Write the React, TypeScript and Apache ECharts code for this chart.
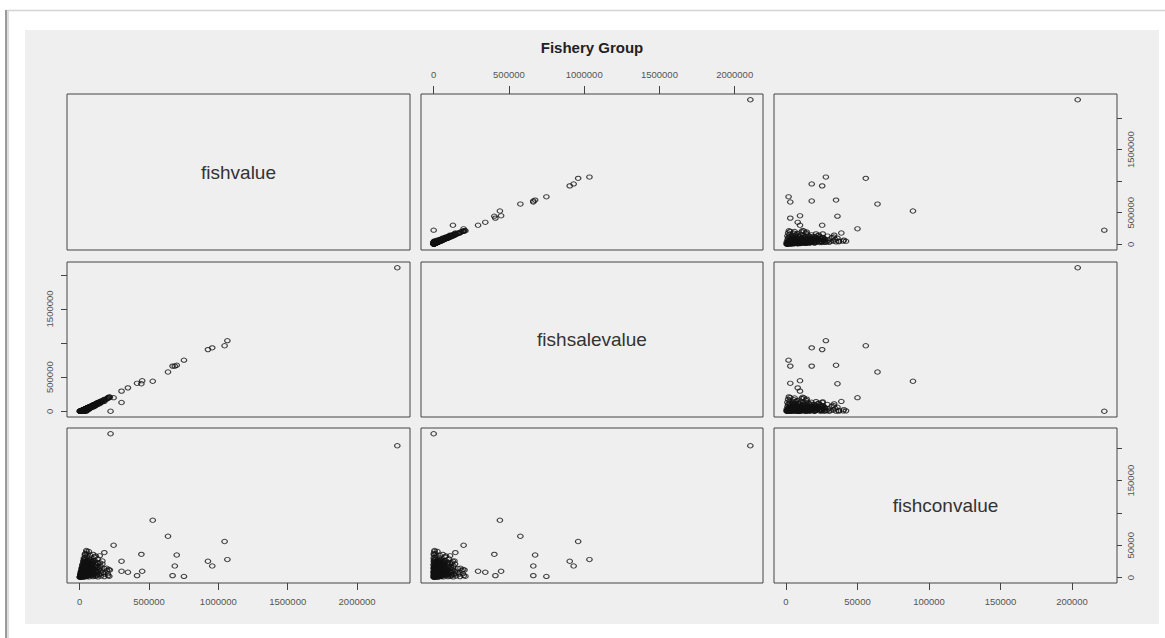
import React, { useEffect, useRef } from 'react';
import * as echarts from 'echarts';

const chartTitle = 'Fishery Group';
const variableNames = ['fishvalue', 'fishsalevalue', 'fishconvalue'];

const fishvalue = [
  223000, 2290000, 527000, 637000, 1045000, 245000, 178000, 50000, 445000, 700000, 1065000, 302000, 925000, 686000, 956000, 302000, 348000, 451000, 414000, 670000, 752000, 39000, 145000,
  500, 3000, 8000, 9000, 14000, 19000, 21000, 28000, 31000, 42000, 47000, 58000, 67000, 84000, 97000, 113000, 132000, 154000, 178000, 205000, 214000,
  6000, 11000, 11500, 17000, 20000, 23000, 29000, 36000, 40000, 48000, 58000, 66000, 80000, 91000, 107000, 126000, 153000, 177000, 203000,
  9500, 14500, 15000, 22000, 24000, 26000, 33000, 36000, 45000, 50000, 60000, 71000, 80000, 102000, 125000, 152000, 197000,
  16500, 22500, 22000, 29000, 35000, 36000, 43000, 45000, 54000, 65000, 70000, 86000, 100000, 123000, 147000, 176000,
  21500, 28000, 28000, 38000, 39000, 48000, 51000, 63000, 72000, 92000, 112000, 145000,
  30500, 38500, 41000, 52000, 53000, 67000, 78000, 108000, 130000,
  37500, 48500, 50000, 66000, 75000, 97000, 116000,
  164000, 164000, 150000, 195000, 210000, 218000,
  6000, 8000, 14000, 17500, 28000, 29000, 41000, 40000, 53000, 46000, 58000, 61000, 66000, 76000, 82000, 95000, 15500, 25000, 36500, 27000, 40000, 59000, 4500, 17500, 53000, 74000, 97000, 116000, 138000, 170000,
  2500, 5000, 7500, 10500, 12500, 16000, 18500, 21000, 24500, 26500, 30000, 33500, 35500, 39000, 43500, 47500, 51000, 55000, 62000, 69000, 73000, 78000, 86000, 90000, 104000,
  11000, 13500, 19500, 23500, 27500, 32000, 37000, 41500, 46000, 52500, 57500, 64000, 71000, 79000, 88000, 8500, 12000, 18000, 25500, 31500, 44000, 56000, 68000, 83000, 99000,
  68000, 86000, 107000, 120000, 133000, 89000, 106000, 121000, 132000, 84000, 62000, 48000, 40000, 33000, 30500, 20500, 14500, 26500, 63000, 67500,
  80000, 90000, 92000, 104000, 122000, 121000, 131000, 140000, 12500, 32000, 36000, 51500, 56000, 55500, 75500, 39000, 45500, 62500, 75500, 96000,
];

const fishsalevalue = [
  0, 2104000, 440000, 576000, 960000, 199000, 144000, 5000, 403000, 674000, 1035000, 128000, 904000, 662000, 930000, 295000, 343000, 448000, 410000, 662000, 749000, 1000, 109000,
  0, 2000, 5000, 8000, 12000, 15000, 20000, 25000, 30000, 38000, 45000, 55000, 65000, 80000, 95000, 110000, 130000, 150000, 175000, 200000, 211000,
  1000, 4000, 7000, 10000, 14000, 18000, 22000, 28000, 35000, 42000, 50000, 60000, 72000, 85000, 100000, 120000, 145000, 170000, 195000,
  0, 3000, 6000, 9000, 13000, 17000, 21000, 26000, 32000, 40000, 48000, 58000, 70000, 90000, 115000, 140000, 185000,
  2000, 5000, 8000, 12000, 16000, 20000, 25000, 31000, 38000, 46000, 55000, 68000, 85000, 105000, 130000, 160000,
  1000, 4000, 8000, 12000, 17000, 23000, 30000, 40000, 52000, 66000, 90000, 120000,
  3000, 7000, 12000, 18000, 26000, 36000, 50000, 75000, 100000,
  2000, 6000, 12000, 25000, 40000, 60000, 82000,
  138000, 142000, 132000, 178000, 196000, 205000,
  3000, 6000, 10000, 16000, 18000, 24000, 27000, 33000, 35000, 43000, 44000, 52000, 62000, 64000, 75000, 78000, 5000, 9000, 14000, 20000, 30000, 36000, 0, 1000, 48000, 56000, 92000, 105000, 125000, 160000,
  1500, 2500, 6000, 4000, 9000, 7000, 14000, 11000, 19000, 14000, 26000, 22000, 29000, 25000, 38000, 34000, 44000, 38000, 55000, 50000, 64000, 58000, 76000, 70000, 92000,
  3000, 5500, 10000, 13000, 16500, 19000, 24000, 27000, 30000, 36000, 40000, 45000, 53000, 58000, 69000, 500, 2000, 5000, 8000, 11000, 20000, 31000, 42000, 56000, 73000,
  45000, 60000, 80000, 95000, 110000, 70000, 88000, 100000, 115000, 62000, 35000, 28000, 15000, 5000, 0, 0, 0, 1000, 48000, 57000,
  66000, 78000, 84000, 98000, 108000, 118000, 122000, 135000, 11000, 24000, 33000, 40000, 47000, 53000, 68000, 20000, 30000, 42000, 52000, 72000,
];

const fishconvalue = [
  222600, 204000, 88800, 64000, 55800, 50000, 38700, 40000, 36000, 35000, 27900, 25300, 25300, 18000, 18000, 9800, 8200, 9800, 3000, 3000, 1800, 37000, 33700,
  500, 1000, 2500, 500, 2000, 3000, 1000, 2000, 500, 3000, 1500, 2500, 1000, 3000, 1500, 2000, 1000, 2500, 1500, 3000, 2000,
  5000, 6500, 4000, 7000, 5500, 4500, 6000, 7000, 4000, 5500, 6500, 4500, 7000, 5000, 6000, 4500, 7000, 5500, 6000,
  9000, 11000, 8500, 12000, 10000, 8000, 11500, 9500, 12000, 8500, 10500, 12000, 9000, 11000, 8500, 10000, 11000,
  14000, 17000, 13500, 16000, 18000, 14500, 17500, 13000, 15500, 18000, 14000, 16500, 13500, 17000, 15000, 14000,
  20000, 23500, 19500, 25000, 21000, 24000, 20000, 22500, 19000, 24500, 21000, 23000,
  27000, 31000, 28500, 33000, 26500, 30000, 27500, 32000, 29000,
  35000, 42000, 37000, 40500, 34500, 36000, 33500,
  25700, 21000, 17800, 14500, 12500, 11600,
  3000, 1500, 3500, 1000, 9500, 4000, 13000, 6000, 16500, 2000, 12500, 8000, 3500, 11000, 6000, 15000, 10000, 15500, 21500, 6000, 9000, 22000, 4000, 16000, 4000, 17000, 4000, 9500, 12000, 8000,
  1000, 2500, 1500, 6000, 3500, 8500, 4500, 9500, 5500, 12000, 4000, 11000, 6500, 13500, 5500, 13000, 7000, 16500, 7000, 19000, 9000, 20000, 10000, 20000, 12000,
  8000, 8000, 9500, 10500, 11000, 13000, 12500, 14500, 15500, 16500, 17500, 19000, 18000, 21000, 19000, 8000, 10000, 13000, 17500, 20500, 24000, 25000, 26000, 27000, 26000,
  22000, 25000, 26000, 24000, 22000, 18000, 17000, 19500, 16000, 21500, 26000, 19000, 24500, 27500, 30000, 20000, 14000, 25000, 14500, 10000,
  13000, 11500, 7500, 5500, 13500, 3000, 9000, 5000, 1500, 7500, 2500, 11000, 8500, 2000, 7000, 18500, 15000, 20000, 23000, 23500,
];

const largeTicks = [0, 500000, 1000000, 1500000, 2000000];
const conTicks = [0, 50000, 100000, 150000, 200000];
const largeYLabels = [0, 500000, 1500000];
const conYLabels = [0, 50000, 150000];

// layout (pixels)
const colX = [67, 421, 774];
const colW = [343, 342, 343];
const rowY = [94, 262, 428];
const rowH = [156, 155, 155];

export default function App() {
  const ref = useRef<HTMLDivElement>(null);

  useEffect(() => {
    document.body.style.margin = '0';
    if (!ref.current) return;
    const chart = echarts.init(ref.current, null, { renderer: 'svg' });

    const vars = [fishvalue, fishsalevalue, fishconvalue];
    const ext = vars.map((arr) => {
      const lo = Math.min(...arr);
      const hi = Math.max(...arr);
      const p = (hi - lo) * 0.04;
      return [lo - p, hi + p];
    });
    const tickVals = [largeTicks, largeTicks, conTicks];
    const yLabelVals = [largeYLabels, largeYLabels, conYLabels];
    const fmt = (v: number) => String(Math.round(v));
    const labelFont = 'Liberation Sans, Arial, sans-serif';

    const grids: any[] = [];
    const xAxes: any[] = [];
    const yAxes: any[] = [];
    const series: any[] = [];
    const graphics: any[] = [
      { type: 'rect', z: -10, shape: { x: 25, y: 30, width: 1134, height: 594 }, style: { fill: '#efefef' } },
      { type: 'line', z: -9, shape: { x1: 6, y1: 10.5, x2: 1165, y2: 10.5 }, style: { stroke: '#d4d4d4', lineWidth: 1.5 } },
      { type: 'line', z: -9, shape: { x1: 6, y1: 10, x2: 6, y2: 638 }, style: { stroke: '#9a9a9a', lineWidth: 2 } },
      { type: 'line', z: -9, shape: { x1: 8, y1: 11, x2: 8, y2: 638 }, style: { stroke: '#dddddd', lineWidth: 2 } },
      {
        type: 'text', z: 10, x: 592, y: 47,
        style: { text: chartTitle, fill: '#222', font: 'bold 15px Liberation Sans, Arial, sans-serif', textAlign: 'center', textVerticalAlign: 'middle' },
      },
    ];

    for (let i = 0; i < 3; i++) {
      for (let j = 0; j < 3; j++) {
        const g = i * 3 + j;
        grids.push({
          left: colX[j], top: rowY[i], width: colW[j], height: rowH[i],
          show: true, borderColor: '#444', borderWidth: 1, backgroundColor: 'transparent',
        });
        const xPos = i === 0 && j === 1 ? 'top' : i === 2 && (j === 0 || j === 2) ? 'bottom' : null;
        const yPos = i === 1 && j === 0 ? 'left' : (i === 0 || i === 2) && j === 2 ? 'right' : null;
        xAxes.push({
          type: 'value', gridIndex: g, min: ext[j][0], max: ext[j][1], position: xPos || 'bottom',
          axisLine: { show: false, onZero: false }, splitLine: { show: false },
          axisTick: xPos
            ? { show: true, customValues: tickVals[j], length: xPos === 'top' ? 8 : 7, lineStyle: { color: '#444', width: 1 } }
            : { show: false },
          axisLabel: xPos
            ? { show: true, customValues: tickVals[j], formatter: fmt, fontSize: 9.5, color: '#555', fontFamily: labelFont, margin: xPos === 'top' ? 15 : 13 }
            : { show: false },
        });
        yAxes.push({
          type: 'value', gridIndex: g, min: ext[i][0], max: ext[i][1], position: yPos || 'left',
          axisLine: { show: false, onZero: false }, splitLine: { show: false },
          axisTick: yPos
            ? { show: true, customValues: tickVals[i], length: yPos === 'left' ? 6 : 5, lineStyle: { color: '#444', width: 1 } }
            : { show: false },
          axisLabel: yPos
            ? { show: true, customValues: yLabelVals[i], formatter: fmt, rotate: 90, fontSize: 9.5, color: '#555', fontFamily: labelFont, margin: yPos === 'left' ? 13 : 8 }
            : { show: false },
        });
        if (i === j) {
          graphics.push({
            type: 'text', z: 10, x: colX[j] + colW[j] / 2, y: rowY[i] + rowH[i] / 2,
            style: { text: variableNames[i], fill: '#333', font: '19px Liberation Sans, Arial, sans-serif', textAlign: 'center', textVerticalAlign: 'middle' },
          });
        } else {
          series.push({
            type: 'scatter', xAxisIndex: g, yAxisIndex: g, silent: true,
            data: vars[j].map((v, k) => [v, vars[i][k]]),
            symbol: 'circle', symbolSize: [5.5, 4.3],
            itemStyle: { color: 'rgba(0,0,0,0)', borderColor: '#111', borderWidth: 1.1 },
          });
        }
      }
    }

    chart.setOption({
      animation: false,
      backgroundColor: '#ffffff',
      grid: grids,
      xAxis: xAxes,
      yAxis: yAxes,
      series,
      graphic: graphics,
    });

    return () => chart.dispose();
  }, []);

  return <div ref={ref} style={{ width: 1165, height: 638 }} />;
}
